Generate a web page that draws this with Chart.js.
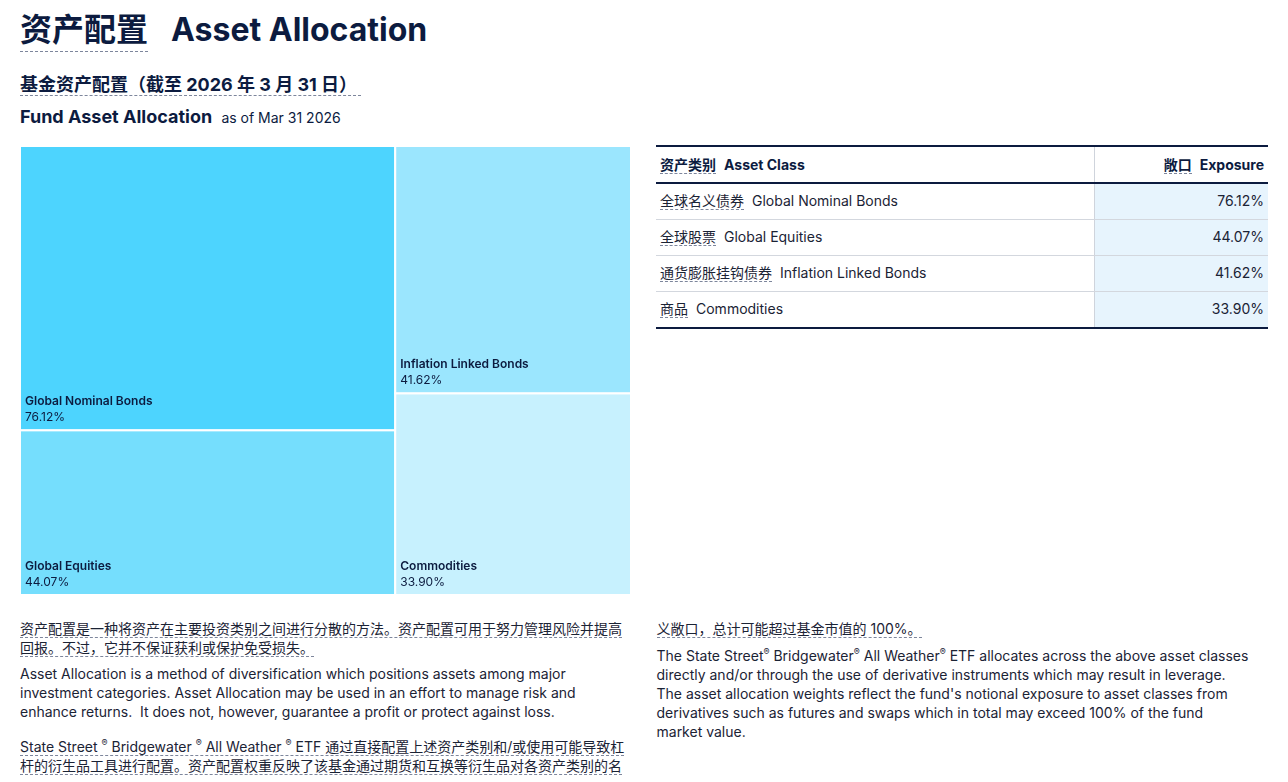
<!DOCTYPE html>
<html>
<head>
<meta charset="utf-8">
<script src="https://cdn.jsdelivr.net/npm/chart.js@4"></script>
<style>
  body { margin: 0; background: #fff; font-family: Inter, "Noto Sans CJK SC", sans-serif; color: #0c1b3f; }
  .dash { border-bottom: 1px dashed #7d869c; }
  #title { position: absolute; left: 20px; top: 8px; font-size: 32px; font-weight: 700; line-height: 44px; white-space: nowrap; }
  #title .zh { margin-right: 23px; padding-bottom: 2px; }
  #sub1 { position: absolute; left: 20px; top: 73px; font-size: 18px; font-weight: 700; line-height: 24px; white-space: nowrap; }
  #sub1 span { padding-bottom: 0px; padding-right: 4px; }
  #sub2 { position: absolute; left: 20px; top: 105px; font-size: 18px; font-weight: 700; line-height: 24px; white-space: nowrap; }
  #sub2 small { font-size: 14px; font-weight: 400; margin-left: 5px; }
  #treeBox { position: absolute; left: 20px; top: 146px; width: 611px; height: 449px; }
  #tbl { position: absolute; left: 656px; top: 145px; width: 612px; border-collapse: collapse; font-size: 14px; color: #1b2335; }
  #tbl th { height: 34px; font-weight: 700; color: #0c1b3f; border-top: 2px solid #0c1b3f; border-bottom: 2px solid #0c1b3f; padding: 0 4px 1px 4px; }
  #tbl td { height: 32px; border-bottom: 1px solid #d3d7de; padding: 0 4px 3px 4px; }
  #tbl tr:last-child td { border-bottom: 2px solid #0c1b3f; }
  #tbl .c1 { text-align: left; width: 430px; border-right: 1px solid #cfd4dc; }
  #tbl .c2 { text-align: right; }
  #tbl td.c2 { background: #e7f4fd; }
  #tbl .zh { margin-right: 8px; }
  #notes { position: absolute; left: 20px; top: 619px; width: 1248px; height: 162px; column-count: 2; column-gap: 25px; column-fill: auto; font-size: 14px; line-height: 19px; color: #1b2335; }
  #notes p { margin: 0 0 7px 0; }
  #notes p.gap { margin-top: 16px; }
  #notes p.last { margin-top: 8px; }
  sup { font-size: 9px; line-height: 0; }
</style>
</head>
<body>
<div id="title"><span class="zh dash">资产配置</span>Asset Allocation</div>
<div id="sub1"><span class="dash">基金资产配置（截至 2026 年 3 月 31 日）</span></div>
<div id="sub2">Fund Asset Allocation <small>as of Mar 31 2026</small></div>

<div id="treeBox"><canvas id="treemap"></canvas></div>

<table id="tbl">
  <thead>
    <tr><th class="c1"><span class="zh dash">资产类别</span>Asset Class</th><th class="c2"><span class="zh dash">敞口</span>Exposure</th></tr>
  </thead>
  <tbody id="tbody"></tbody>
</table>

<div id="notes">
  <p><span class="dash">资产配置是一种将资产在主要投资类别之间进行分散的方法。资产配置可用于努力管理风险并提高回报。不过，它并不保证获利或保护免受损失。</span></p>
  <p>Asset Allocation is a method of diversification which positions assets among major investment categories. Asset Allocation may be used in an effort to manage risk and enhance returns.&nbsp; It does not, however, guarantee a profit or protect against loss.</p>
  <p class="gap"><span class="dash">State Street <sup>®</sup> Bridgewater <sup>®</sup> All Weather <sup>®</sup> ETF 通过直接配置上述资产类别和/或使用可能导致杠杆的衍生品工具进行配置。资产配置权重反映了该基金通过期货和互换等衍生品对各资产类别的名义敞口，总计可能超过基金市值的 100%。</span></p>
  <p class="last">The State Street<sup>®</sup> Bridgewater<sup>®</sup> All Weather<sup>®</sup> ETF allocates across the above asset classes directly and/or through the use of derivative instruments which may result in leverage.<br>The asset allocation weights reflect the fund's notional exposure to asset classes from derivatives such as futures and swaps which in total may exceed 100% of the fund<br>market value.</p>
</div>

<script>
// Asset classes and exposure (%)
var classesEn = ['Global Nominal Bonds', 'Global Equities', 'Inflation Linked Bonds', 'Commodities'];
var classesZh = ['全球名义债券', '全球股票', '通货膨胀挂钩债券', '商品'];
var exposure = [76.12, 44.07, 41.62, 33.90];
var tileColors = ['#4dd4fe', '#75defd', '#9be6fe', '#c7f1fe'];
// treemap columns (indexes into the arrays above)
var columns = [[0, 1], [2, 3]];

var total = exposure.reduce(function(s, v) { return s + v; }, 0);

// table
var tbody = document.getElementById('tbody');
classesEn.forEach(function(name, i) {
    var tr = document.createElement('tr');
    tr.innerHTML = '<td class="c1"><span class="zh dash">' + classesZh[i] + '</span>' + name + '</td>' +
        '<td class="c2">' + exposure[i].toFixed(2) + '%</td>';
    tbody.appendChild(tr);
});

// draws the tiles through the x / y scales
var treemapPlugin = {
    id: 'treemapTiles',
    afterDatasetsDraw: function(chart) {
        var ctx = chart.ctx;
        var x = chart.scales.x, y = chart.scales.y;
        var x0 = 0;
        columns.forEach(function(col) {
            var colSum = col.reduce(function(s, i) { return s + exposure[i]; }, 0);
            var y0 = 1;
            col.forEach(function(i) {
                var h = exposure[i] / colSum;
                var left = x.getPixelForValue(x0), right = x.getPixelForValue(x0 + colSum);
                var top = y.getPixelForValue(y0), bottom = y.getPixelForValue(y0 - h);
                ctx.save();
                ctx.fillStyle = tileColors[i];
                ctx.fillRect(left, top, right - left, bottom - top);
                ctx.strokeStyle = '#ffffff';
                ctx.lineWidth = 2;
                ctx.strokeRect(left, top, right - left, bottom - top);
                ctx.fillStyle = '#0c1b3f';
                ctx.textBaseline = 'middle';
                ctx.font = '600 12px Inter';
                ctx.fillText(classesEn[i], left + 5, bottom - 29);
                ctx.font = '400 12px Inter';
                ctx.fillText(exposure[i].toFixed(2) + '%', left + 5, bottom - 13);
                ctx.restore();
                y0 -= h;
            });
            x0 += colSum;
        });
    }
};

var chart = new Chart(document.getElementById('treemap'), {
    type: 'scatter',
    data: { datasets: [{ data: [] }] },
    options: {
        responsive: true,
        maintainAspectRatio: false,
        animation: false,
        layout: { padding: 0 },
        scales: {
            x: { type: 'linear', display: false, min: 0, max: total },
            y: { type: 'linear', display: false, min: 0, max: 1 }
        },
        plugins: { legend: { display: false }, tooltip: { enabled: false } }
    },
    plugins: [treemapPlugin]
});
</script>
</body>
</html>
